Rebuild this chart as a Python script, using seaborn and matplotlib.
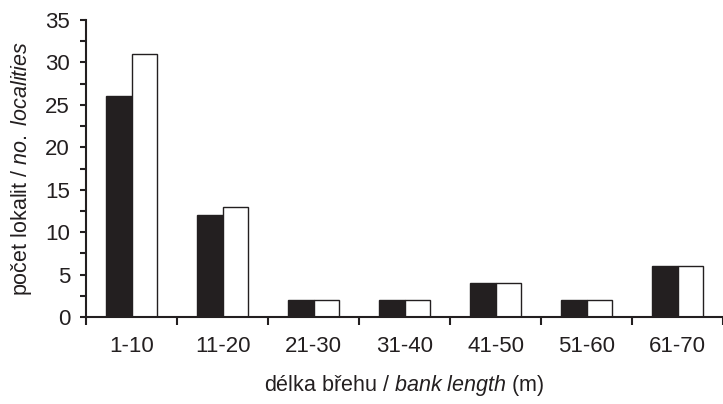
import matplotlib
matplotlib.use("Agg")
import matplotlib.pyplot as plt
import seaborn as sns
import pandas as pd
import numpy as np

categories = ["1-10", "11-20", "21-30", "31-40", "41-50", "51-60", "61-70"]
series_black = [26, 12, 2, 2, 4, 2, 6]
series_white = [31, 13, 2, 2, 4, 2, 6]
series_names = ["A", "B"]

df = pd.DataFrame({
    "cat": categories * 2,
    "series": [series_names[0]] * len(categories) + [series_names[1]] * len(categories),
    "value": series_black + series_white,
})

sns.set_style("ticks")
plt.rcParams["font.family"] = ["Liberation Sans", "DejaVu Sans"]
plt.rcParams["mathtext.fontset"] = "custom"
plt.rcParams["mathtext.rm"] = "Liberation Sans"
plt.rcParams["mathtext.it"] = "Liberation Sans:italic"

fig = plt.figure(figsize=(7.23, 4.04), dpi=100)
ax = fig.add_axes([0.119, 0.2153, 0.881, 0.7352])

sns.barplot(data=df, x="cat", y="value", hue="series", order=categories,
            hue_order=series_names, palette=["#231f20", "#ffffff"],
            width=0.57, gap=0, ax=ax, legend=False, saturation=1,
            edgecolor="#231f20", linewidth=1.0)

ax.set_xlim(-0.5, len(categories) - 0.5)
ax.set_ylim(0, 35)
ax.set_yticks(np.arange(0, 36, 5))
ax.set_yticks(np.arange(0, 35, 2.5), minor=True)

ax.set_xticks(np.arange(-0.5, len(categories), 1.0))
ax.set_xticklabels([])
ax.set_xticks(np.arange(len(categories)), minor=True)
ax.set_xticklabels(categories, minor=True)

for s in ["top", "right"]:
    ax.spines[s].set_visible(False)
for s in ["left", "bottom"]:
    ax.spines[s].set_linewidth(1.5)
    ax.spines[s].set_color("#231f20")

ax.tick_params(axis="y", which="both", direction="out", length=4.5, width=1.5,
               colors="#231f20", labelsize=16, pad=7)
ax.tick_params(axis="x", which="major", direction="out", length=6, width=1.5,
               colors="#231f20")
ax.tick_params(axis="x", which="minor", length=0, labelsize=16, pad=14,
               colors="#231f20")

ax.set_xlabel(r"délka břehu / $\it{bank\ length}$ (m)", fontsize=15.5,
              color="#231f20", labelpad=11)
ax.set_ylabel(r"počet lokalit / $\it{no.\ localities}$", fontsize=15.5,
              color="#231f20", labelpad=8)

fig.savefig("out.png", dpi=100)
